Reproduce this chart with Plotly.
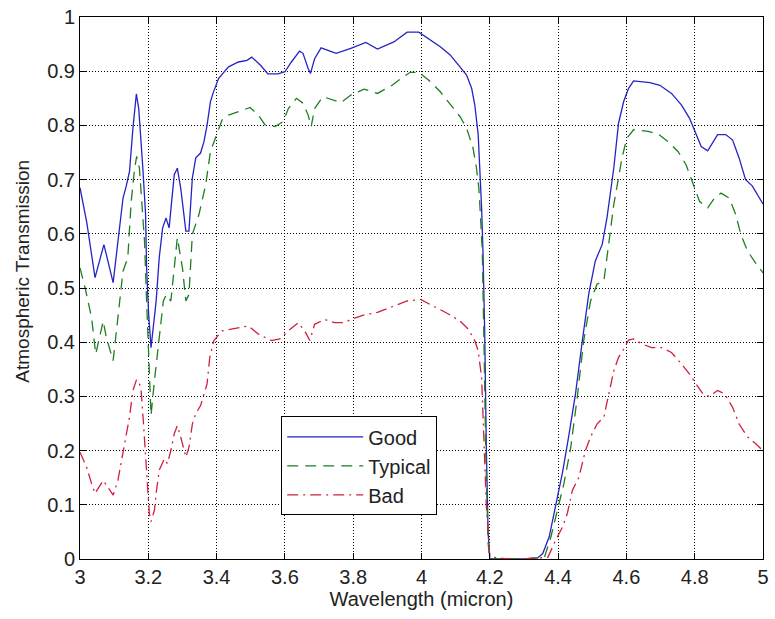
import plotly.graph_objects as go

# ---------------- data ----------------
good_x = [3.0, 3.02, 3.044, 3.07, 3.097, 3.115, 3.126, 3.135, 3.145, 3.155, 3.165,
          3.172, 3.179, 3.184, 3.192, 3.195, 3.201, 3.208, 3.215, 3.223, 3.232, 3.242,
          3.252, 3.261, 3.276, 3.285, 3.295, 3.31, 3.319, 3.329, 3.339, 3.353, 3.363,
          3.372, 3.382, 3.39, 3.406, 3.435, 3.464, 3.489, 3.503, 3.53, 3.55, 3.58,
          3.6, 3.619, 3.643, 3.653, 3.668, 3.675, 3.687, 3.706, 3.75, 3.793, 3.837,
          3.871, 3.919, 3.958, 3.992, 4.026, 4.055, 4.084, 4.113, 4.132, 4.147, 4.156,
          4.166, 4.171, 4.176, 4.18, 4.185, 4.19, 4.195, 4.2, 4.25, 4.3, 4.34, 4.355,
          4.374, 4.393, 4.413, 4.432, 4.451, 4.471, 4.49, 4.509, 4.529, 4.543, 4.563,
          4.577, 4.592, 4.606, 4.621, 4.669, 4.698, 4.732, 4.761, 4.785, 4.804, 4.819,
          4.838, 4.867, 4.891, 4.911, 4.93, 4.949, 4.969, 5.0]
good_y = [0.685, 0.62, 0.519, 0.58, 0.51, 0.6, 0.666, 0.687, 0.715, 0.795, 0.858,
          0.831, 0.77, 0.721, 0.636, 0.537, 0.452, 0.39, 0.43, 0.476, 0.556, 0.611,
          0.629, 0.611, 0.709, 0.721, 0.684, 0.605, 0.605, 0.703, 0.74, 0.749, 0.77,
          0.8, 0.844, 0.86, 0.887, 0.908, 0.917, 0.92, 0.926, 0.91, 0.895, 0.895,
          0.899, 0.917, 0.937, 0.933, 0.905, 0.896, 0.923, 0.943, 0.933, 0.942, 0.953,
          0.941, 0.954, 0.972, 0.972, 0.957, 0.945, 0.93, 0.908, 0.893, 0.868, 0.838,
          0.783, 0.721, 0.648, 0.568, 0.42, 0.2, 0.05, 0.0, 0.0, 0.0, 0.002, 0.01,
          0.041, 0.1, 0.16, 0.23, 0.305, 0.403, 0.49, 0.55, 0.58, 0.629, 0.721,
          0.804, 0.844, 0.868, 0.882, 0.879, 0.874, 0.859, 0.838, 0.813, 0.783, 0.761,
          0.753, 0.783, 0.783, 0.773, 0.74, 0.7, 0.688, 0.655]

typical_x = [3.0, 3.015, 3.034, 3.046, 3.068, 3.077, 3.097, 3.111, 3.126, 3.14, 3.15,
             3.16, 3.166, 3.174, 3.182, 3.189, 3.195, 3.201, 3.208, 3.218, 3.232, 3.244,
             3.253, 3.266, 3.276, 3.285, 3.3, 3.31, 3.319, 3.329, 3.348, 3.368, 3.382,
             3.397, 3.416, 3.435, 3.474, 3.498, 3.522, 3.542, 3.571, 3.595, 3.61, 3.634,
             3.653, 3.668, 3.677, 3.687, 3.711, 3.74, 3.764, 3.793, 3.832, 3.871, 3.914,
             3.943, 3.967, 3.992, 4.026, 4.055, 4.084, 4.113, 4.132, 4.151, 4.161, 4.168,
             4.173, 4.178, 4.183, 4.188, 4.195, 4.2, 4.25, 4.3, 4.36, 4.379, 4.398,
             4.417, 4.437, 4.456, 4.475, 4.495, 4.514, 4.534, 4.548, 4.563, 4.577,
             4.587, 4.601, 4.621, 4.664, 4.693, 4.722, 4.751, 4.775, 4.795, 4.814,
             4.838, 4.858, 4.877, 4.901, 4.92, 4.935, 4.955, 4.974, 5.0]
typical_y = [0.537, 0.5, 0.445, 0.378, 0.439, 0.409, 0.366, 0.445, 0.531, 0.556, 0.66,
             0.721, 0.743, 0.721, 0.642, 0.586, 0.476, 0.378, 0.265, 0.329, 0.403, 0.476,
             0.488, 0.476, 0.537, 0.593, 0.537, 0.476, 0.488, 0.599, 0.635, 0.69, 0.752,
             0.776, 0.81, 0.819, 0.828, 0.833, 0.819, 0.801, 0.798, 0.807, 0.831, 0.85,
             0.841, 0.819, 0.798, 0.831, 0.853, 0.847, 0.842, 0.856, 0.867, 0.859, 0.874,
             0.888, 0.898, 0.898, 0.881, 0.862, 0.838, 0.816, 0.795, 0.758, 0.721, 0.684,
             0.629, 0.568, 0.4, 0.2, 0.03, 0.0, 0.0, 0.0, 0.003, 0.041, 0.09,
             0.139, 0.206, 0.298, 0.403, 0.476, 0.507, 0.513, 0.58, 0.654, 0.703,
             0.74, 0.776, 0.792, 0.789, 0.784, 0.77, 0.752, 0.727, 0.691, 0.66,
             0.648, 0.666, 0.675, 0.666, 0.636, 0.599, 0.568, 0.55, 0.528]

bad_x = [3.0, 3.019, 3.034, 3.044, 3.068, 3.082, 3.097, 3.111, 3.126, 3.135, 3.145,
         3.155, 3.165, 3.172, 3.179, 3.186, 3.192, 3.198, 3.203, 3.208, 3.218, 3.223,
         3.232, 3.247, 3.256, 3.266, 3.276, 3.285, 3.295, 3.31, 3.319, 3.329, 3.339,
         3.353, 3.363, 3.372, 3.38, 3.392, 3.416, 3.445, 3.493, 3.522, 3.561, 3.585,
         3.61, 3.639, 3.658, 3.673, 3.687, 3.716, 3.745, 3.774, 3.793, 3.83, 3.871,
         3.909, 3.958, 3.997, 4.035, 4.079, 4.113, 4.137, 4.156, 4.166, 4.176, 4.18,
         4.185, 4.19, 4.2, 4.25, 4.3, 4.37, 4.393, 4.413, 4.427, 4.442, 4.461, 4.48,
         4.495, 4.514, 4.534, 4.548, 4.563, 4.577, 4.592, 4.606, 4.621, 4.645, 4.674,
         4.703, 4.732, 4.761, 4.785, 4.804, 4.824, 4.843, 4.867, 4.887, 4.911, 4.93,
         4.955, 4.978, 5.0]
bad_y = [0.197, 0.17, 0.139, 0.121, 0.145, 0.133, 0.118, 0.145, 0.194, 0.225, 0.262,
         0.311, 0.33, 0.329, 0.311, 0.249, 0.188, 0.127, 0.084, 0.069, 0.09, 0.121,
         0.164, 0.185, 0.176, 0.2, 0.231, 0.246, 0.225, 0.188, 0.206, 0.249, 0.268,
         0.283, 0.305, 0.323, 0.372, 0.403, 0.421, 0.424, 0.43, 0.415, 0.403, 0.406,
         0.421, 0.436, 0.421, 0.403, 0.433, 0.442, 0.436, 0.436, 0.442, 0.45, 0.455,
         0.464, 0.476, 0.479, 0.467, 0.452, 0.439, 0.424, 0.403, 0.384, 0.335, 0.268,
         0.17, 0.096, 0.004, 0.0, 0.0, 0.003, 0.035, 0.059, 0.084, 0.127, 0.151, 0.2,
         0.225, 0.249, 0.262, 0.305, 0.347, 0.372, 0.387, 0.404, 0.406, 0.397, 0.39,
         0.39, 0.381, 0.36, 0.341, 0.323, 0.305, 0.3, 0.311, 0.305, 0.28, 0.249,
         0.225, 0.213, 0.2]

series_names = ["Good", "Typical", "Bad"]
x_ticks = [3, 3.2, 3.4, 3.6, 3.8, 4, 4.2, 4.4, 4.6, 4.8, 5]
x_tick_labels = ["3", "3.2", "3.4", "3.6", "3.8", "4", "4.2", "4.4", "4.6", "4.8", "5"]
y_ticks = [0, 0.1, 0.2, 0.3, 0.4, 0.5, 0.6, 0.7, 0.8, 0.9, 1]
y_tick_labels = ["0", "0.1", "0.2", "0.3", "0.4", "0.5", "0.6", "0.7", "0.8", "0.9", "1"]
x_title = "Wavelength (micron)"
y_title = "Atmospheric Transmission"

# ---------------- figure ----------------
FONT = "Liberation Sans, Arial, sans-serif"
TXT = "#222"
fig = go.Figure()
fig.add_trace(go.Scatter(x=good_x, y=good_y, mode="lines", name=series_names[0],
                         line=dict(color="#2424c4", width=1.3)))
fig.add_trace(go.Scatter(x=typical_x, y=typical_y, mode="lines", name=series_names[1],
                         line=dict(color="#1f7f1f", width=1.3, dash="11px,7px")))
fig.add_trace(go.Scatter(x=bad_x, y=bad_y, mode="lines", name=series_names[2],
                         line=dict(color="#d0203c", width=1.3, dash="11px,5px,2px,5px")))

axis_common = dict(
    showline=True, linecolor="black", linewidth=1, mirror="allticks",
    ticks="inside", ticklen=6, tickcolor="black",
    showgrid=True, gridcolor="black", gridwidth=1, griddash="1px,2px",
    zeroline=False,
    tickfont=dict(family=FONT, size=20, color=TXT),
)

fig.update_layout(
    width=775, height=619,
    margin=dict(l=80, r=6, t=15, b=60),
    paper_bgcolor="white", plot_bgcolor="white",
    font=dict(family=FONT, size=20, color=TXT),
    xaxis=dict(range=[3, 5], tickvals=x_ticks, ticktext=x_tick_labels,
               title=dict(text=x_title, font=dict(size=20), standoff=2),
               **axis_common),
    yaxis=dict(range=[0, 1], tickvals=y_ticks, ticktext=y_tick_labels,
               **axis_common),
    legend=dict(x=0.2946, y=0.263, xanchor="left", yanchor="top",
                bgcolor="white", bordercolor="black", borderwidth=1,
                font=dict(family=FONT, size=20, color=TXT),
                itemwidth=76, tracegroupgap=0),
    showlegend=True,
)
fig.add_annotation(text=y_title, xref="paper", yref="paper", x=-0.0842, y=0.531,
                   xanchor="center", yanchor="middle", textangle=-90, showarrow=False,
                   font=dict(family=FONT, size=19, color=TXT))

fig.write_html("out.html")
